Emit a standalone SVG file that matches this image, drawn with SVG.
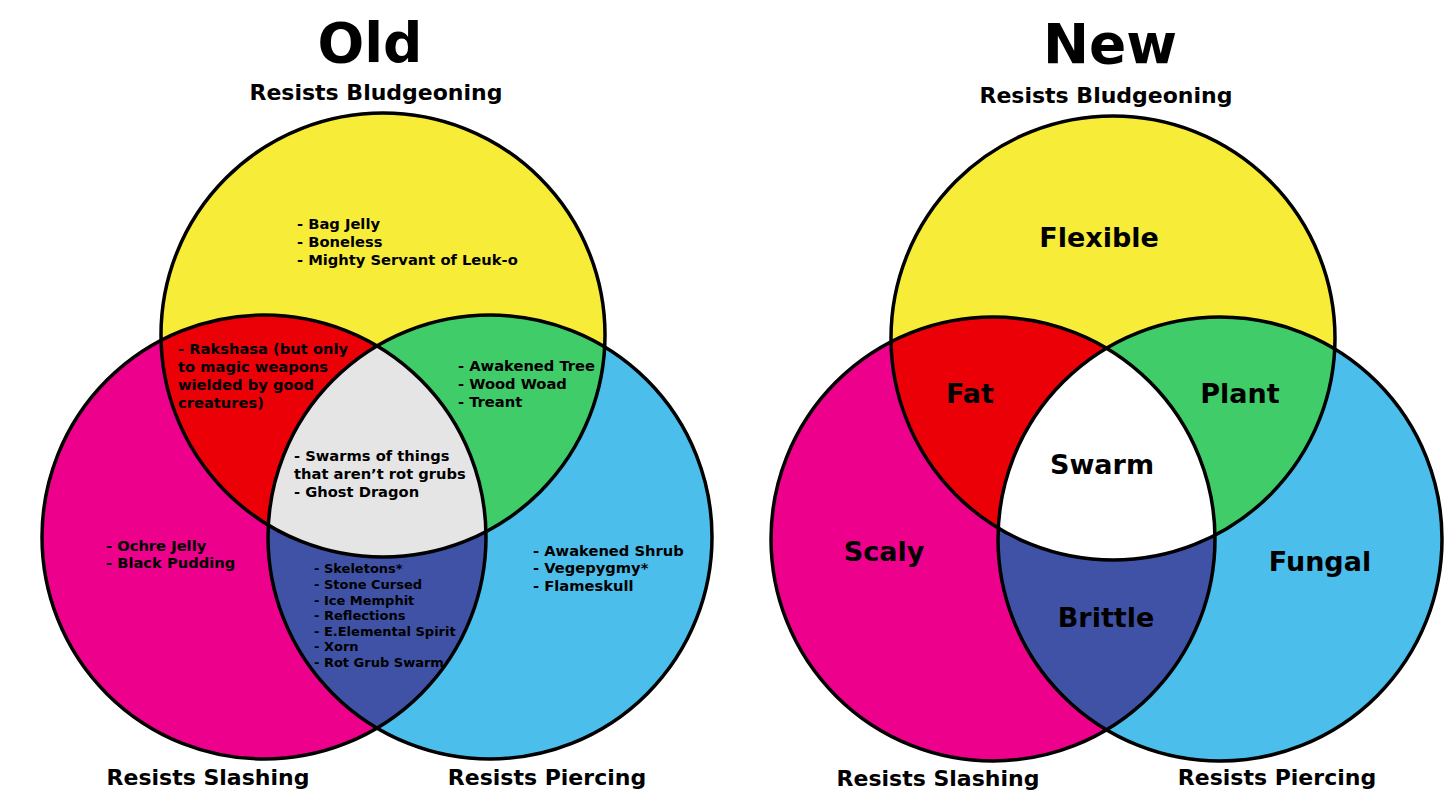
<svg xmlns="http://www.w3.org/2000/svg" width="1456" height="811" viewBox="0 0 1456 811">
<style>
text{font-family:"DejaVu Sans","Liberation Sans",sans-serif;font-weight:bold;fill:#000}
.title{font-size:55px;text-anchor:middle}
.lbl{font-size:22px;text-anchor:middle}
.item{font-size:14.7px}
.small{font-size:13px}
.big{font-size:27px;text-anchor:middle}
.ring{fill:none;stroke:#000;stroke-width:3.5}
</style>
<defs>
<clipPath id="cYL"><circle cx="383" cy="335" r="222"/></clipPath>
<clipPath id="cBL"><circle cx="490" cy="537" r="222"/></clipPath>
<clipPath id="cYR"><circle cx="1113" cy="338" r="222"/></clipPath>
<clipPath id="cBR"><circle cx="1220" cy="539" r="222"/></clipPath>
</defs>
<rect width="1456" height="811" fill="#fff"/>

<g id="old-venn">
  <g id="old-sets">
    <circle cx="383" cy="335" r="222" fill="#F7EC37"/>
    <circle cx="264" cy="537" r="222" fill="#EC008C"/>
    <circle cx="490" cy="537" r="222" fill="#4BBEEB"/>
    <circle cx="264" cy="537" r="222" fill="#EC0008" clip-path="url(#cYL)"/>
    <circle cx="490" cy="537" r="222" fill="#3FCC69" clip-path="url(#cYL)"/>
    <circle cx="264" cy="537" r="222" fill="#3F52A5" clip-path="url(#cBL)"/>
    <g clip-path="url(#cYL)"><circle cx="264" cy="537" r="222" fill="#E5E5E5" clip-path="url(#cBL)"/></g>
  </g>
  <g id="old-outlines">
    <circle class="ring" cx="383" cy="335" r="222"/>
    <circle class="ring" cx="264" cy="537" r="222"/>
    <circle class="ring" cx="490" cy="537" r="222"/>
  </g>
  <g id="old-labels">
    <text class="title" x="370" y="62">Old</text>
    <text class="lbl" x="376" y="100">Resists Bludgeoning</text>
    <text class="lbl" x="208" y="785">Resists Slashing</text>
    <text class="lbl" x="547" y="785">Resists Piercing</text>
  </g>
  <g id="old-bludgeoning">
    <text class="item" x="297" y="229">- Bag Jelly</text>
    <text class="item" x="297" y="247">- Boneless</text>
    <text class="item" x="297" y="265">- Mighty Servant of Leuk-o</text>
  </g>
  <g id="old-bludg-slash">
    <text class="item" x="178" y="354">- Rakshasa (but only</text>
    <text class="item" x="178" y="372">to magic weapons</text>
    <text class="item" x="178" y="390">wielded by good</text>
    <text class="item" x="178" y="408">creatures)</text>
  </g>
  <g id="old-bludg-pierce">
    <text class="item" x="458" y="371">- Awakened Tree</text>
    <text class="item" x="458" y="389">- Wood Woad</text>
    <text class="item" x="458" y="407">- Treant</text>
  </g>
  <g id="old-all">
    <text class="item" x="294" y="461">- Swarms of things</text>
    <text class="item" x="294" y="479">that aren’t rot grubs</text>
    <text class="item" x="294" y="497">- Ghost Dragon</text>
  </g>
  <g id="old-slashing">
    <text class="item" x="106" y="551">- Ochre Jelly</text>
    <text class="item" x="106" y="568">- Black Pudding</text>
  </g>
  <g id="old-slash-pierce">
    <text class="small" x="314" y="573">- Skeletons*</text>
    <text class="small" x="314" y="589">- Stone Cursed</text>
    <text class="small" x="314" y="605">- Ice Memphit</text>
    <text class="small" x="314" y="620">- Reflections</text>
    <text class="small" x="314" y="636">- E.Elemental Spirit</text>
    <text class="small" x="314" y="651">- Xorn</text>
    <text class="small" x="314" y="667">- Rot Grub Swarm</text>
  </g>
  <g id="old-piercing">
    <text class="item" x="533" y="556">- Awakened Shrub</text>
    <text class="item" x="533" y="573">- Vegepygmy*</text>
    <text class="item" x="533" y="591">- Flameskull</text>
  </g>
</g>

<g id="new-venn">
  <g id="new-sets">
    <circle cx="1113" cy="338" r="222" fill="#F7EC37"/>
    <circle cx="993" cy="539" r="222" fill="#EC008C"/>
    <circle cx="1220" cy="539" r="222" fill="#4BBEEB"/>
    <circle cx="993" cy="539" r="222" fill="#EC0008" clip-path="url(#cYR)"/>
    <circle cx="1220" cy="539" r="222" fill="#3FCC69" clip-path="url(#cYR)"/>
    <circle cx="993" cy="539" r="222" fill="#3F52A5" clip-path="url(#cBR)"/>
    <g clip-path="url(#cYR)"><circle cx="993" cy="539" r="222" fill="#FFFFFF" clip-path="url(#cBR)"/></g>
  </g>
  <g id="new-outlines">
    <circle class="ring" cx="1113" cy="338" r="222"/>
    <circle class="ring" cx="993" cy="539" r="222"/>
    <circle class="ring" cx="1220" cy="539" r="222"/>
  </g>
  <g id="new-labels">
    <text class="title" x="1110" y="63">New</text>
    <text class="lbl" x="1106" y="103">Resists Bludgeoning</text>
    <text class="lbl" x="938" y="786">Resists Slashing</text>
    <text class="lbl" x="1277" y="785">Resists Piercing</text>
  </g>
  <g id="new-flexible"><text class="big" x="1099" y="247">Flexible</text></g>
  <g id="new-fat"><text class="big" x="970" y="403">Fat</text></g>
  <g id="new-plant"><text class="big" x="1240" y="403">Plant</text></g>
  <g id="new-swarm"><text class="big" x="1102" y="474">Swarm</text></g>
  <g id="new-scaly"><text class="big" x="884" y="561">Scaly</text></g>
  <g id="new-fungal"><text class="big" x="1320" y="571">Fungal</text></g>
  <g id="new-brittle"><text class="big" x="1106" y="627">Brittle</text></g>
</g>
</svg>
